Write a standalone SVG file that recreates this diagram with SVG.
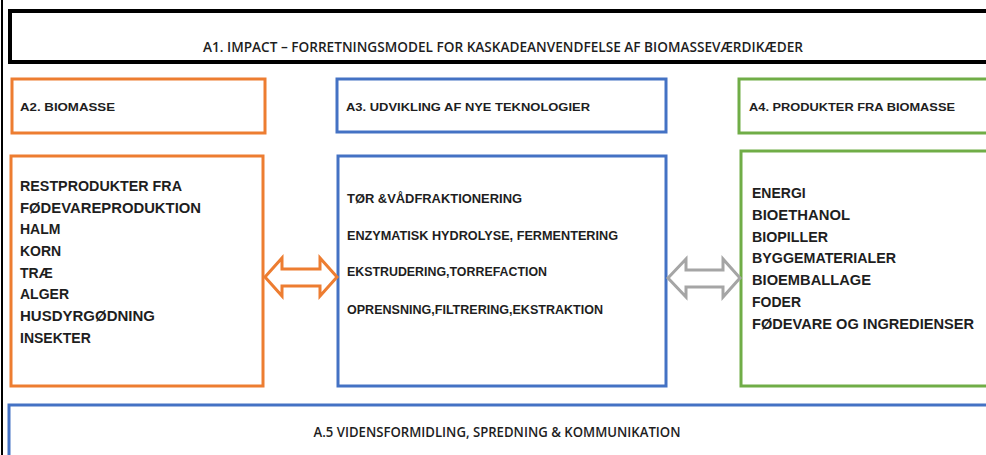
<svg xmlns="http://www.w3.org/2000/svg" width="986" height="455" viewBox="0 0 986 455">
<style>
.t{font-family:"Liberation Sans",Arial,sans-serif;fill:#1e1e1e}
.b{font-weight:bold}
.cond{font-family:"Open Sans","Liberation Sans",Arial,sans-serif;font-weight:600;fill:#1e1e1e;font-size:13.5px}
.o{fill:#fff;stroke:#ED7D31;stroke-width:3}
.bl{fill:#fff;stroke:#4472C4;stroke-width:3}
.g{fill:#fff;stroke:#70AD47;stroke-width:3}
</style>
<rect x="0" y="0" width="986" height="455" fill="#fff"/>
<line x1="2" y1="0" x2="2" y2="455" stroke="#000" stroke-width="2"/>
<g id="a1">
<rect x="10" y="11" width="990" height="51" fill="#fff" stroke="#000" stroke-width="4"/>
<text class="cond" x="503" y="52" text-anchor="middle" textLength="600" lengthAdjust="spacingAndGlyphs">A1. IMPACT – FORRETNINGSMODEL FOR KASKADEANVENDFELSE AF BIOMASSEVÆRDIKÆDER</text>
</g>
<g id="a2-header">
<rect class="o" x="12" y="79" width="253" height="54"/>
<text class="t b" x="20" y="111" font-size="11.5" textLength="95" lengthAdjust="spacingAndGlyphs">A2. BIOMASSE</text>
</g>
<g id="a2-body">
<rect class="o" x="11" y="156" width="252" height="230"/>
<g class="t b" font-size="14">
<text x="20" y="191" textLength="162" lengthAdjust="spacingAndGlyphs">RESTPRODUKTER FRA</text>
<text x="20" y="213" textLength="181" lengthAdjust="spacingAndGlyphs">FØDEVAREPRODUKTION</text>
<text x="20" y="234">HALM</text>
<text x="20" y="256">KORN</text>
<text x="20" y="278">TRÆ</text>
<text x="20" y="299">ALGER</text>
<text x="20" y="321" textLength="135" lengthAdjust="spacingAndGlyphs">HUSDYRGØDNING</text>
<text x="20" y="343">INSEKTER</text>
</g>
</g>
<g id="a3-header">
<rect class="bl" x="337" y="79" width="329" height="53"/>
<text class="t b" x="346" y="111" font-size="11.5" textLength="244" lengthAdjust="spacingAndGlyphs">A3. UDVIKLING AF NYE TEKNOLOGIER</text>
</g>
<g id="a3-body">
<rect class="bl" x="338" y="156" width="328" height="230"/>
<g class="t b" font-size="12">
<text x="347" y="203" textLength="175" lengthAdjust="spacingAndGlyphs">TØR &amp;VÅDFRAKTIONERING</text>
<text x="347" y="240" textLength="271" lengthAdjust="spacingAndGlyphs">ENZYMATISK HYDROLYSE, FERMENTERING</text>
<text x="347" y="276" textLength="200" lengthAdjust="spacingAndGlyphs">EKSTRUDERING,TORREFACTION</text>
<text x="347" y="314" textLength="256" lengthAdjust="spacingAndGlyphs">OPRENSNING,FILTRERING,EKSTRAKTION</text>
</g>
</g>
<g id="a4-header">
<rect class="g" x="739" y="79" width="260" height="54"/>
<text class="t b" x="749" y="111" font-size="11.5" textLength="206" lengthAdjust="spacingAndGlyphs">A4. PRODUKTER FRA BIOMASSE</text>
</g>
<g id="a4-body">
<rect class="g" x="741" y="151" width="260" height="235"/>
<g class="t b" font-size="14">
<text x="752" y="198">ENERGI</text>
<text x="752" y="220" textLength="98" lengthAdjust="spacingAndGlyphs">BIOETHANOL</text>
<text x="752" y="242" textLength="76" lengthAdjust="spacingAndGlyphs">BIOPILLER</text>
<text x="752" y="263" textLength="144" lengthAdjust="spacingAndGlyphs">BYGGEMATERIALER</text>
<text x="752" y="285" textLength="119" lengthAdjust="spacingAndGlyphs">BIOEMBALLAGE</text>
<text x="752" y="307">FODER</text>
<text x="752" y="329" textLength="222" lengthAdjust="spacingAndGlyphs">FØDEVARE OG INGREDIENSER</text>
</g>
</g>
<g id="a5">
<rect class="bl" x="9" y="405" width="1000" height="60"/>
<text class="cond" x="497" y="437" text-anchor="middle" textLength="367" lengthAdjust="spacingAndGlyphs">A.5 VIDENSFORMIDLING, SPREDNING &amp; KOMMUNIKATION</text>
</g>
<g id="connectors">
<path d="M265,277 L282,258 L282,269 L320,269 L320,258 L337,277 L320,296 L320,286 L282,286 L282,296 Z" fill="#fff" stroke="#ED7D31" stroke-width="3" stroke-linejoin="miter"/>
<path d="M668,278 L686,259 L686,270 L723,270 L723,259 L740,278 L723,297 L723,287 L686,287 L686,297 Z" fill="#fff" stroke="#A5A5A5" stroke-width="3" stroke-linejoin="miter"/>
</g>
</svg>
